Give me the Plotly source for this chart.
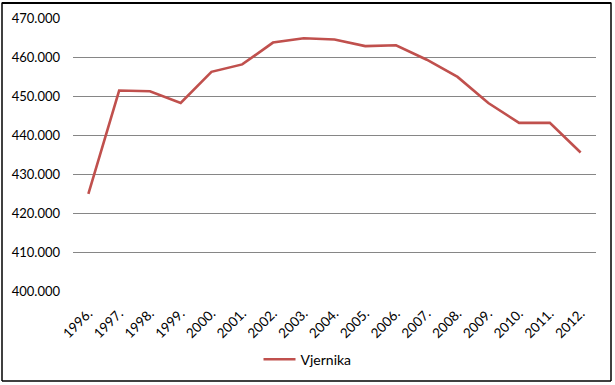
import plotly.graph_objects as go

years = ["1996.", "1997.", "1998.", "1999.", "2000.", "2001.", "2002.", "2003.", "2004.",
         "2005.", "2006.", "2007.", "2008.", "2009.", "2010.", "2011.", "2012."]
vjernika = [424900, 451400, 451200, 448200, 456200, 458100, 463700, 464800, 464500,
            462800, 463000, 459300, 454900, 448200, 443100, 443100, 435500]
series_name = "Vjernika"
ytick_vals = [400000, 410000, 420000, 430000, 440000, 450000, 460000, 470000]
ytick_text = ["400.000", "410.000", "420.000", "430.000", "440.000", "450.000", "460.000", "470.000"]

W, H = 615, 385
ml, mr, mt, mb = 73, 19, 18, 94
pw, ph = W - ml - mr, H - mt - mb

fig = go.Figure()
fig.add_trace(go.Scatter(
    x=years, y=vjernika, mode="lines", name=series_name,
    line=dict(color="#C0504D", width=2.6),
))

FONT = "Lato, Open Sans, sans-serif"
fig.update_layout(
    width=W, height=H,
    margin=dict(l=ml, r=mr, t=mt, b=mb, pad=0, autoexpand=False),
    paper_bgcolor="white", plot_bgcolor="white",
    font=dict(family=FONT, size=14, color="#000000"),
    showlegend=True,
    legend=dict(orientation="h", xref="container", yref="container",
                x=0.5, xanchor="center", y=0.066, yanchor="middle",
                font=dict(size=14), itemwidth=32),
    xaxis=dict(type="category", tickangle=-45, showgrid=False, showline=False,
               ticks="", tickfont=dict(size=13.5), range=[-0.5, len(years) - 0.5],
               ticklabelstandoff=11),
    yaxis=dict(range=[400000, 470000], tickvals=ytick_vals, ticktext=ytick_text,
               showgrid=True, gridcolor="#868686", gridwidth=1, zeroline=False,
               showline=False, ticks="", ticklabelstandoff=12, tickfont=dict(size=13)),
)

# chart border (left, right, bottom edges as shapes)
def px_x(p):
    return (p - ml) / pw

def px_y(p):
    return 1 - (p - mt) / ph

L, R, T, B = 2, 611, 2.5, 381
for x0, y0, x1, y1 in [(R, T, R, B), (L, B, R, B), (L, T, L, B)]:
    fig.add_shape(type="line", xref="paper", yref="paper",
                  x0=px_x(x0), y0=px_y(y0), x1=px_x(x1), y1=px_y(y1),
                  line=dict(color="#000000", width=1.5), layer="above")

# top edge of the border (drawn as an overlay, since a shape there is not shown)
post = (
    "document.body.style.margin='0';"
    "document.body.style.overflow='hidden';"
    "var b=document.createElement('div');"
    "b.style.cssText='position:absolute;left:2px;top:2px;width:609px;height:1.5px;"
    "background:#000;z-index:1000;pointer-events:none;';"
    "document.body.appendChild(b);"
)
fig.write_html("out.html", config={"displayModeBar": False}, post_script=post)
